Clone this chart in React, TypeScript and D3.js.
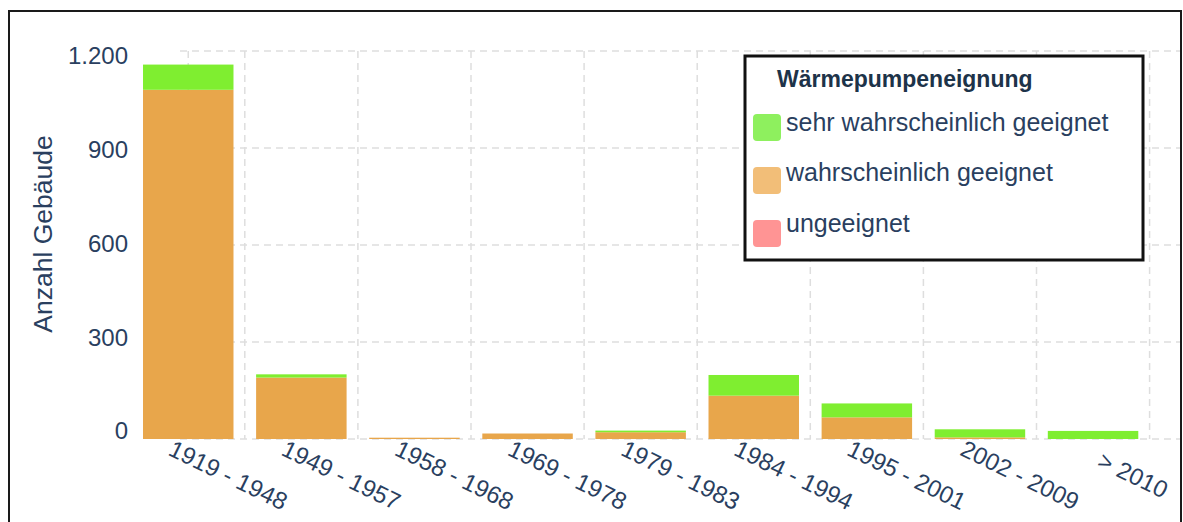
import { useEffect, useRef } from "react";
import * as d3 from "d3";

const categories = ["1919 - 1948", "1949 - 1957", "1958 - 1968", "1969 - 1978", "1979 - 1983", "1984 - 1994", "1995 - 2001", "2002 - 2009", "> 2010"];
const sehrWahrscheinlich = [78, 10, 0, 0, 5, 64, 43, 25, 25];
const wahrscheinlich = [1080, 190, 4, 17, 21, 134, 67, 5, 0];
const ungeeignet = [0, 0, 0, 0, 0, 0, 0, 0, 0];
const yTicks = [0, 300, 600, 900, 1200];
const seriesNames = ["sehr wahrscheinlich geeignet", "wahrscheinlich geeignet", "ungeeignet"];

const FONT = '"Liberation Sans", Arial, sans-serif';
const TEXT = "#2a3f5f";

const App = () => {
  const ref = useRef<SVGSVGElement>(null);

  useEffect(() => {
    const w = 1183;
    const h = 522;
    const svg = d3.select(ref.current).attr("width", w).attr("height", h);
    svg.selectAll("*").remove();

    const x = d3.scaleBand().domain(categories).range([131.7, 1149.6]).paddingInner(0.2).paddingOuter(0.1);
    const y = d3.scaleLinear().domain([0, 1200]).range([439, 51]);
    // tick labels in the screenshot sit a little off their gridlines
    const yLabel = d3.scaleLinear().domain([0, 1200]).range([431, 56]);
    const step = x.step();

    const de = d3.formatLocale({ decimal: ",", thousands: ".", grouping: [3], currency: ["", "€"] });
    const fmt = de.format(",");

    // outer frame
    svg.append("rect").attr("x", 9).attr("y", 11).attr("width", 1172).attr("height", 530)
      .attr("fill", "#fff").attr("stroke", "#1a1a1a").attr("stroke-width", 2);

    // grid
    const grid = svg.append("g").attr("stroke", "#dedede").attr("stroke-width", 1.5).attr("stroke-dasharray", "7,5");
    grid.selectAll(".hg").data(yTicks).join("line")
      .attr("x1", 180).attr("x2", 1180)
      .attr("y1", (d) => y(d)).attr("y2", (d) => y(d));
    const vx = [x(categories[0])! + x.bandwidth() / 2, ...categories.map((c) => x(c)! + x.bandwidth() + step * 0.1)];
    grid.selectAll(".vg").data(vx).join("line")
      .attr("x1", (d) => d).attr("x2", (d) => d)
      .attr("y1", y(1200)).attr("y2", y(0));

    // stacked bars
    const rows = categories.map((c, i) => ({ cat: c, ung: ungeeignet[i], wahr: wahrscheinlich[i], sehr: sehrWahrscheinlich[i] }));
    const stack = d3.stack<any>().keys(["ung", "wahr", "sehr"]);
    const colors: Record<string, string> = { ung: "#ff8f8f", wahr: "#e8a64b", sehr: "#7fee30" };
    svg.append("g").selectAll("g").data(stack(rows)).join("g")
      .attr("fill", (s) => colors[s.key])
      .selectAll("rect").data((s) => s).join("rect")
      .attr("x", (d) => x(d.data.cat)!)
      .attr("width", x.bandwidth())
      .attr("y", (d) => y(d[1]))
      .attr("height", (d) => y(d[0]) - y(d[1]));

    // y axis labels
    svg.append("g").selectAll("text").data(yTicks).join("text")
      .attr("x", 128).attr("y", (d) => yLabel(d)).attr("dy", "0.35em")
      .attr("text-anchor", "end").attr("font-family", FONT).attr("font-size", 24).attr("fill", TEXT)
      .text((d) => fmt(d));

    svg.append("text")
      .attr("transform", "translate(43,234) rotate(-90)")
      .attr("text-anchor", "middle").attr("dy", "0.35em")
      .attr("font-family", FONT).attr("font-size", 26.5).attr("fill", TEXT)
      .text("Anzahl Gebäude");

    // x axis labels
    svg.append("g").selectAll("text").data(categories).join("text")
      .attr("transform", (d) => `translate(${x(d)! + x.bandwidth() / 2 + 40},475) rotate(26)`)
      .attr("text-anchor", "middle").attr("dy", "0.35em")
      .attr("font-family", FONT).attr("font-size", 24).attr("fill", TEXT)
      .text((d) => d);

    // legend
    const lg = svg.append("g");
    lg.append("rect").attr("x", 745).attr("y", 56).attr("width", 398).attr("height", 204)
      .attr("fill", "#fff").attr("stroke", "#111").attr("stroke-width", 3);
    lg.append("text").attr("x", 777).attr("y", 87)
      .attr("font-family", FONT).attr("font-size", 23).attr("font-weight", "bold").attr("fill", "#1d3349")
      .text("Wärmepumpeneignung");
    const swatch = ["#8ef05e", "#f2be78", "#ff9494"];
    seriesNames.forEach((name, i) => {
      lg.append("rect").attr("x", 753).attr("y", 114 + 53 * i).attr("width", 28).attr("height", 27)
        .attr("rx", 4).attr("fill", swatch[i]);
      lg.append("text").attr("x", 786).attr("y", 131 + 50.4 * i)
        .attr("font-family", FONT).attr("font-size", 25).attr("fill", TEXT)
        .text(name);
    });
  }, []);

  return <svg ref={ref} style={{ position: "absolute", left: 0, top: 0, display: "block" }}></svg>;
};

export default App;
